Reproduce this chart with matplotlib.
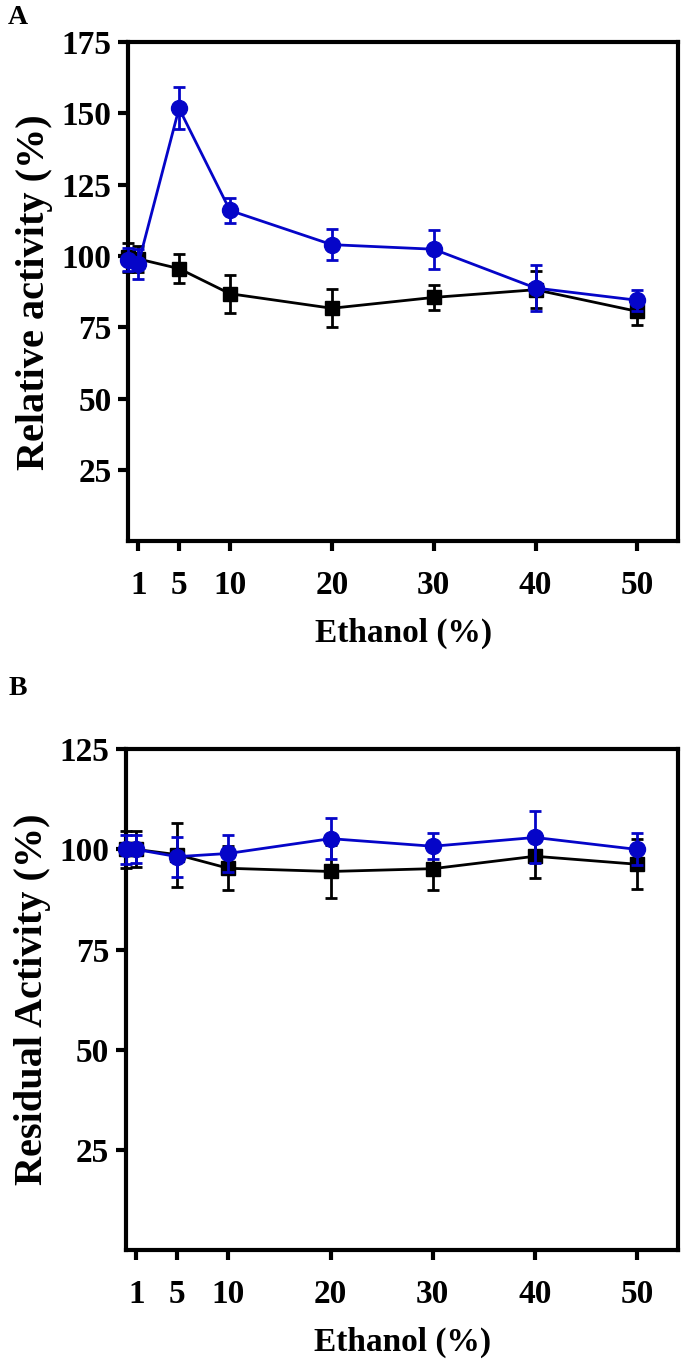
import matplotlib
matplotlib.use("Agg")
from matplotlib import pyplot as plt

# ethanol concentration (%)
ethanol = [0, 1, 5, 10, 20, 30, 40, 50]
xtick_vals = [1, 5, 10, 20, 30, 40, 50]

# panel A - relative activity
rel_black = [99.5, 99, 95.6, 86.8, 81.7, 85.5, 88.2, 80.6]
rel_black_err = [5, 4.5, 5, 6.6, 6.7, 4.5, 6.5, 4.6]
rel_blue = [98.7, 97.2, 151.8, 116, 104, 102.4, 88.8, 84.5]
rel_blue_err = [4, 5.3, 7.4, 4.5, 5.5, 6.8, 8, 3.6]

# panel B - residual activity
res_black = [100, 100, 98.7, 95.3, 94.5, 95.2, 98.3, 96.3]
res_black_err = [4.6, 4.5, 8, 5.5, 6.5, 5.3, 5.5, 6.3]
res_blue = [100, 100, 98.2, 99, 102.7, 100.8, 103, 100]
res_blue_err = [3.6, 3.5, 5, 4.7, 5.2, 3.2, 6.5, 4]

blue = '#0505c8'
plt.rcParams['font.family'] = ['Liberation Serif', 'DejaVu Serif']
plt.rcParams['font.weight'] = 'bold'

fig = plt.figure(figsize=(6.85, 13.6), dpi=100)
axA = fig.add_axes([0.187, 0.602, 0.803, 0.367])
axB = fig.add_axes([0.184, 0.081, 0.806, 0.368])


def draw(ax, yb, eb, yc, ec, ylim, yticks, ylabel):
    ax.errorbar(ethanol, yb, yerr=eb, color='black', marker='s', ms=10,
                lw=2, elinewidth=2, capsize=4, capthick=2, clip_on=False, zorder=3)
    ax.errorbar(ethanol, yc, yerr=ec, color=blue, marker='o', ms=11.5,
                lw=2, elinewidth=2, capsize=4, capthick=2, clip_on=False, zorder=4)
    ax.set_xlim(0, 54)
    ax.set_ylim(*ylim)
    ax.set_xticks(xtick_vals)
    ax.set_yticks(yticks)
    for s in ax.spines.values():
        s.set_linewidth(3)
    ax.tick_params(direction='out', length=7, width=3, labelsize=24)
    ax.tick_params(axis='x', pad=14)
    ax.tick_params(axis='y', pad=5)
    for lab in ax.get_xticklabels() + ax.get_yticklabels():
        lab.set_fontweight('bold')
    ax.set_xlabel('Ethanol (%)', fontsize=24, fontweight='bold', labelpad=12)
    ax.set_ylabel(ylabel, fontsize=29, fontweight='bold', labelpad=6)


draw(axA, rel_black, rel_black_err, rel_blue, rel_blue_err, (0, 175),
     [25, 50, 75, 100, 125, 150, 175], 'Relative activity (%)')
draw(axB, res_black, res_black_err, res_blue, res_blue_err, (0, 125),
     [25, 50, 75, 100, 125], 'Residual Activity (%)')

fig.text(0.012, 0.987, 'A', fontsize=20, fontweight='bold', va='center', ha='left')
fig.text(0.012, 0.494, 'B', fontsize=20, fontweight='bold', va='center', ha='left')

fig.savefig('out.png', dpi=100)
